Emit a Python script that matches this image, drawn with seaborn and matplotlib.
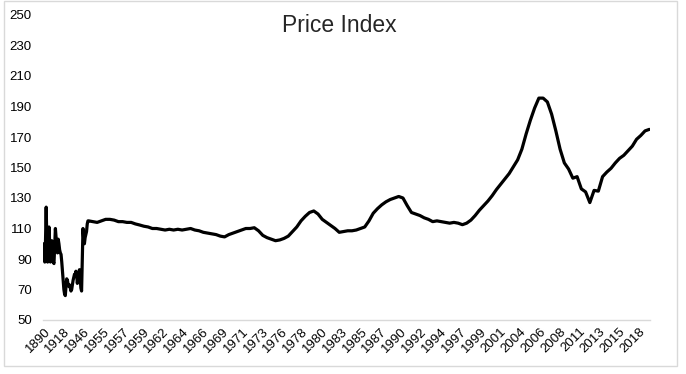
import numpy as np
import pandas as pd
import matplotlib
matplotlib.use("Agg")
import matplotlib.pyplot as plt
import seaborn as sns
from matplotlib.patches import Rectangle

# annual readings 1890-1952
annual_years = list(range(1890, 1953))
annual_values = [
    100, 88, 101, 124, 100, 88, 104, 111, 100, 88,
    98, 102, 92, 88, 87, 99, 110, 104, 95, 94,
    103, 100, 96, 94, 93, 88, 82, 76, 70, 67,
    66, 72, 77, 76, 73, 72, 73, 71, 69, 70,
    73, 76, 78, 80, 79, 82, 80, 74, 78, 80,
    83, 78, 71, 69, 90, 110, 103, 100, 104, 106,
    108, 113, 115,
]

# half-yearly readings 1953.0 - 2019.0 (monthly section of the chart)
half_years = np.arange(1953.0, 2019.01, 0.5)
half_values = [
    115, 114.5, 114, 115, 116, 116, 115.5, 114.5, 114.5, 114,
    114, 113, 112.3, 111.5, 111, 110, 110, 109.5, 109, 109.5,
    109, 109.5, 109, 109.5, 110, 109, 108.5, 107.5, 107, 106.5,
    106, 105, 104.5, 106, 107, 108, 109, 110, 110, 110.5,
    108.5, 105.5, 104, 103, 102, 102.5, 103.5, 105, 108, 111,
    115, 118, 120.5, 121.5, 119.5, 116, 114, 112, 110, 107.5,
    108, 108.5, 108.5, 109, 110, 111, 115, 120, 123, 125.5,
    127.5, 129, 130, 131, 130, 125, 120.5, 119.5, 118.5, 117,
    116, 114.5, 115, 114.5, 114, 113.5, 114, 113.5, 112.5, 113.5,
    115.5, 118.5, 122, 125, 128, 131.5, 135.5, 139, 142.5, 146,
    150.5, 155, 162, 172, 181, 189, 195.5, 195.5, 193, 185,
    174, 162, 153, 149, 143, 144, 136, 134, 127, 135,
    134.5, 144, 147, 149.5, 153, 156, 158, 161, 164, 168.5,
    171, 174, 175,
]

tick_labels = ['1890', '1918', '1946', '1955', '1957', '1959', '1962', '1964',
               '1966', '1969', '1971', '1973', '1976', '1978', '1980', '1983',
               '1985', '1987', '1990', '1992', '1994', '1997', '1999', '2001',
               '2004', '2006', '2008', '2011', '2013', '2015', '2018']

# category positions: one per year up to 1952, then one per month
annual_pos = np.arange(len(annual_years))
half_pos = len(annual_years) + (half_years - 1953.0) * 12
df = pd.DataFrame({
    'pos': np.concatenate([annual_pos, half_pos]),
    'index': annual_values + half_values,
})

sns.set_style("white")
plt.rcParams['font.family'] = ['Liberation Sans', 'DejaVu Sans']

fig = plt.figure(figsize=(6.86, 3.74), dpi=100)
ax = fig.add_axes([43 / 686, 54 / 374, 607 / 686, 305 / 374])

sns.lineplot(data=df, x='pos', y='index', color='black', linewidth=2.3, ax=ax)

ax.set_xlim(-1.5, 856)
ax.set_ylim(50, 250)
ax.set_yticks(range(50, 251, 20))
ax.set_xticks(np.arange(len(tick_labels)) * 28)
ax.set_xticklabels(tick_labels, rotation=45, ha='right', rotation_mode='anchor')
ax.tick_params(axis='both', labelsize=9.5, length=0, colors='black')
ax.tick_params(axis='y', pad=8)
ax.tick_params(axis='x', pad=4)
ax.set_xlabel('')
ax.set_ylabel('')
for side in ['top', 'right', 'left']:
    ax.spines[side].set_visible(False)
ax.spines['bottom'].set_color('#d9d9d9')
ax.spines['bottom'].set_linewidth(1)

fig.text(0.495, 0.932, 'Price Index', ha='center', va='center', fontsize=16.5)

# chart area border
fig.patches.append(Rectangle((4 / 686, 8 / 374), 673 / 686, 365 / 374,
                             transform=fig.transFigure, fill=False,
                             edgecolor='#d9d9d9', linewidth=1))

fig.savefig('out.png', dpi=100)
